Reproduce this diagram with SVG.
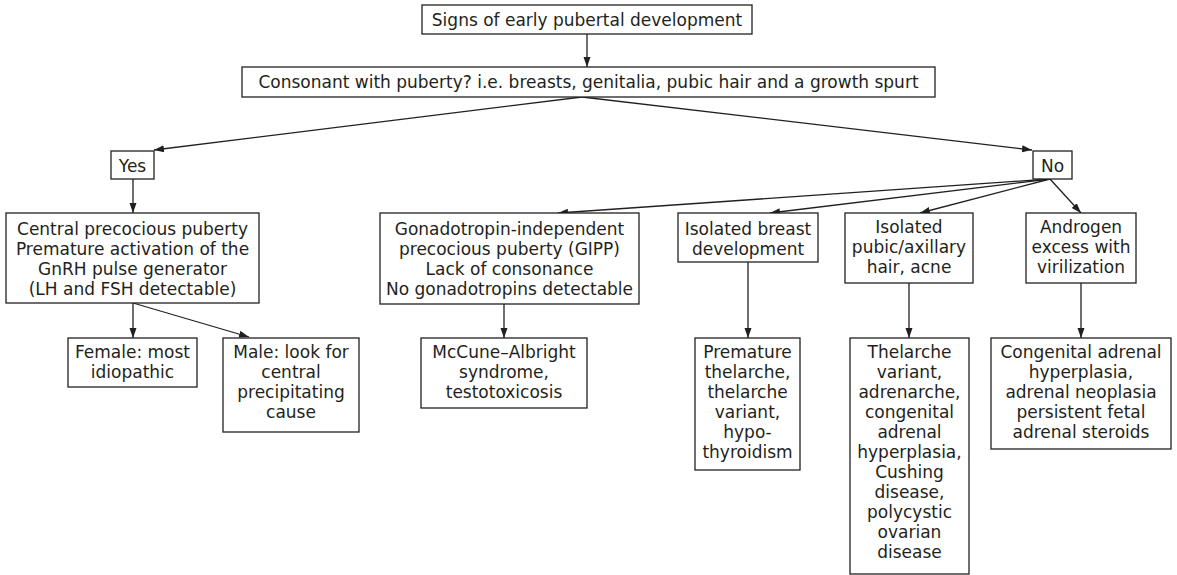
<svg xmlns="http://www.w3.org/2000/svg" width="1177" height="575" viewBox="0 0 1177 575">
<defs>
<marker id="ah" markerWidth="11" markerHeight="8" refX="10" refY="3.5" orient="auto" markerUnits="userSpaceOnUse">
<path d="M0,0 L10,3.5 L0,7 z" fill="#231f20"/>
</marker>
<style>
rect{fill:#fff;stroke:#231f20;stroke-width:1.3}
text{font-family:"DejaVu Sans","Liberation Sans",sans-serif;font-size:17px;fill:#231f20;text-anchor:middle}
.c line{stroke:#231f20;stroke-width:1.3;marker-end:url(#ah)}
</style>
</defs>
<g class="c" id="connectors">
<line x1="587" y1="34" x2="587" y2="67"/>
<line x1="582" y1="97" x2="154" y2="150"/>
<line x1="582" y1="97" x2="1032" y2="150"/>
<line x1="133" y1="179" x2="133" y2="213"/>
<line x1="133" y1="303" x2="133" y2="338"/>
<line x1="133" y1="303" x2="249" y2="337"/>
<line x1="1050" y1="179" x2="558" y2="213"/>
<line x1="1050" y1="179" x2="770" y2="213"/>
<line x1="1050" y1="179" x2="920" y2="213"/>
<line x1="1050" y1="179" x2="1081" y2="213"/>
<line x1="504" y1="304" x2="504" y2="338"/>
<line x1="748" y1="262" x2="748" y2="338"/>
<line x1="909" y1="283" x2="909" y2="338"/>
<line x1="1081" y1="283" x2="1081" y2="338"/>
</g>
<g id="n-signs"><rect x="422" y="5" width="330" height="29"/><text x="587" y="26">Signs of early pubertal development</text></g>
<g id="n-consonant"><rect x="242" y="67" width="693" height="30"/><text x="588.5" y="88">Consonant with puberty? i.e. breasts, genitalia, pubic hair and a growth spurt</text></g>
<g id="n-yes"><rect x="111" y="151" width="43" height="28"/><text x="132.5" y="172">Yes</text></g>
<g id="n-no"><rect x="1033" y="151" width="39" height="28"/><text x="1052.5" y="172">No</text></g>
<g id="n-central"><rect x="6" y="213" width="253" height="90"/>
<text x="132.5" y="235">Central precocious puberty</text>
<text x="132.5" y="255">Premature activation of the</text>
<text x="132.5" y="275">GnRH pulse generator</text>
<text x="132.5" y="295">(LH and FSH detectable)</text></g>
<g id="n-female"><rect x="68" y="338" width="129" height="49"/>
<text x="132.5" y="358">Female: most</text>
<text x="132.5" y="378">idiopathic</text></g>
<g id="n-male"><rect x="223" y="338" width="136" height="94"/>
<text x="291" y="358">Male: look for</text>
<text x="291" y="378">central</text>
<text x="291" y="398">precipitating</text>
<text x="291" y="418">cause</text></g>
<g id="n-gipp"><rect x="380" y="213" width="259" height="91"/>
<text x="509.5" y="235">Gonadotropin-independent</text>
<text x="509.5" y="255">precocious puberty (GIPP)</text>
<text x="509.5" y="275">Lack of consonance</text>
<text x="509.5" y="295">No gonadotropins detectable</text></g>
<g id="n-mccune"><rect x="421" y="338" width="166" height="70"/>
<text x="504" y="358">McCune–Albright</text>
<text x="504" y="378">syndrome,</text>
<text x="504" y="398">testotoxicosis</text></g>
<g id="n-breast"><rect x="678" y="213" width="140" height="49"/>
<text x="748" y="235">Isolated breast</text>
<text x="748" y="255">development</text></g>
<g id="n-premature"><rect x="695" y="338" width="105" height="132"/>
<text x="747.5" y="358">Premature</text>
<text x="747.5" y="378">thelarche,</text>
<text x="747.5" y="398">thelarche</text>
<text x="747.5" y="418">variant,</text>
<text x="747.5" y="438">hypo-</text>
<text x="747.5" y="458">thyroidism</text></g>
<g id="n-pubic"><rect x="845" y="213" width="128" height="70"/>
<text x="909" y="233">Isolated</text>
<text x="909" y="253">pubic/axillary</text>
<text x="909" y="273">hair, acne</text></g>
<g id="n-thelarche"><rect x="850" y="338" width="119" height="236"/>
<text x="909.5" y="358">Thelarche</text>
<text x="909.5" y="378">variant,</text>
<text x="909.5" y="398">adrenarche,</text>
<text x="909.5" y="418">congenital</text>
<text x="909.5" y="438">adrenal</text>
<text x="909.5" y="458">hyperplasia,</text>
<text x="909.5" y="478">Cushing</text>
<text x="909.5" y="498">disease,</text>
<text x="909.5" y="518">polycystic</text>
<text x="909.5" y="538">ovarian</text>
<text x="909.5" y="558">disease</text></g>
<g id="n-androgen"><rect x="1026" y="213" width="110" height="70"/>
<text x="1081" y="233">Androgen</text>
<text x="1081" y="253">excess with</text>
<text x="1081" y="273">virilization</text></g>
<g id="n-congenital"><rect x="991" y="338" width="180" height="111"/>
<text x="1081" y="358">Congenital adrenal</text>
<text x="1081" y="378">hyperplasia,</text>
<text x="1081" y="398">adrenal neoplasia</text>
<text x="1081" y="418">persistent fetal</text>
<text x="1081" y="438">adrenal steroids</text></g>
</svg>
